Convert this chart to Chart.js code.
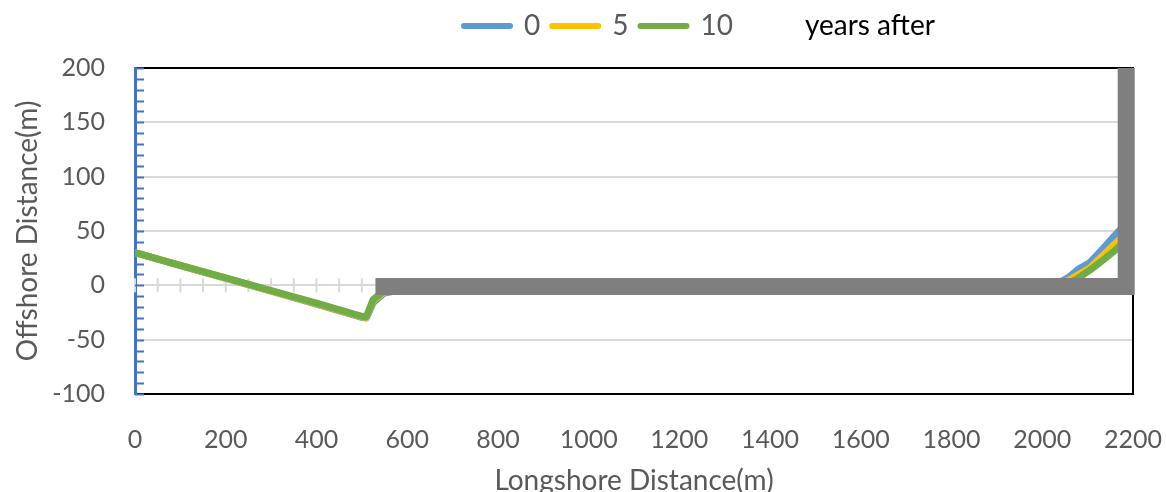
<!DOCTYPE html>
<html>
<head>
<meta charset="utf-8">
<script src="https://cdn.jsdelivr.net/npm/chart.js@4"></script>
<style>
  html, body { margin: 0; padding: 0; background: #fff; }
  #wrap { width: 1166px; height: 492px; }
</style>
</head>
<body>
<div id="wrap"><canvas id="myChart" width="1166" height="492"></canvas></div>
<script>
const longshore = [0, 100, 200, 300, 400, 500, 510, 525, 550, 600, 700, 800, 1000, 1200, 1400, 1600, 1800, 2000, 2040, 2060, 2080, 2105, 2130, 2160, 2180];
const year0  = [30, 18.2, 6.4, -5.4, -17.2, -29.5, -30, -16, -7, -3, -2, -1, -1, -1, -1, -1, -0.5, 0, 3, 8, 15, 21, 32, 46, 55];
const year5  = [30, 18.3, 6.6, -5.1, -16.8, -29, -29.5, -14, -6, -3, -2, -1, -1, -1, -1, -1, -0.5, 0, 1, 5, 10, 16, 26, 38, 46];
const year10 = [30, 18.4, 6.8, -4.8, -16.4, -28.5, -29, -13, -5, -2.5, -1.5, -1, -1, -1, -1, -1, -0.5, 0, 0, 2, 7, 14, 22, 32, 40];
const breakwaterX = [530, 2185, 2185];
const breakwaterY = [-1, -1, 200];
const seriesLabels = ['0', '5', '10', 'years after'];
const xTicks = [0, 200, 400, 600, 800, 1000, 1200, 1400, 1600, 1800, 2000, 2200];
const yTicks = [-100, -50, 0, 50, 100, 150, 200];

const FONT = 'Lato, "DejaVu Sans", sans-serif';
const GREY_TEXT = '#595959';

function pts(xs, ys) {
  return xs.map((x, i) => ({ x: x, y: ys[i] }));
}

function lineSet(label, ys, color, order) {
  return {
    label: label,
    data: pts(longshore, ys),
    borderColor: color,
    backgroundColor: color,
    borderWidth: 7,
    borderJoinStyle: 'round',
    borderCapStyle: 'round',
    pointRadius: 0,
    fill: false,
    order: order
  };
}

const data = {
  datasets: [
    lineSet(seriesLabels[0], year0, '#5B9BD5', 3),
    lineSet(seriesLabels[1], year5, '#FFC000', 2),
    lineSet(seriesLabels[2], year10, '#70AD47', 1),
    {
      label: seriesLabels[3],
      data: pts(breakwaterX, breakwaterY),
      borderColor: '#7F7F7F',
      backgroundColor: '#7F7F7F',
      borderWidth: 17,
      borderCapStyle: 'butt',
      borderJoinStyle: 'miter',
      pointRadius: 0,
      fill: false,
      clip: false,
      order: 0
    }
  ]
};

// minor tick marks: crossing ticks on the zero line, inward ticks on the left axis
const axisTicks = {
  id: 'axisTicks',
  beforeDatasetsDraw(chart) {
    const { ctx, scales: { x, y } } = chart;
    ctx.save();
    const y0 = y.getPixelForValue(0);
    ctx.strokeStyle = '#d9d9d9';
    ctx.lineWidth = 2;
    for (let v = x.min; v <= x.max; v += 50) {
      const px = x.getPixelForValue(v);
      ctx.beginPath();
      ctx.moveTo(px, y0 - 7);
      ctx.lineTo(px, y0 + 7);
      ctx.stroke();
    }
    ctx.strokeStyle = '#4472C4';
    for (let v = y.min; v <= y.max; v += 10) {
      const py = Math.round(y.getPixelForValue(v)) + 0.5;
      ctx.beginPath();
      ctx.moveTo(x.left, py);
      ctx.lineTo(x.left + 9, py);
      ctx.stroke();
    }
    ctx.restore();
  }
};

// move the legend so it sits right of centre like the original
const legendShift = {
  id: 'legendShift',
  afterLayout(chart) {
    const lg = chart.legend;
    if (!lg) return;
    lg.left = 452;
    lg.right = 1166;
    lg.width = lg.right - lg.left;
  }
};

const config = {
  type: 'line',
  data,
  plugins: [axisTicks, legendShift],
  options: {
    responsive: false,
    animation: false,
    layout: { padding: { left: 0, right: 5, top: 0, bottom: 0 } },
    plugins: {
      tooltip: { enabled: false },
      legend: {
        position: 'top',
        align: 'start',
        labels: {
          usePointStyle: true,
          pointStyleWidth: 46,
          padding: 12,
          font: { family: FONT, size: 28 },
          generateLabels(chart) {
            return chart.data.datasets.map((ds, i) => ({
              text: ds.label,
              datasetIndex: i,
              hidden: false,
              pointStyle: 'line',
              lineWidth: 6,
              lineCap: 'round',
              strokeStyle: i === 3 ? 'rgba(0,0,0,0)' : ds.borderColor,
              fillStyle: i === 3 ? 'rgba(0,0,0,0)' : ds.borderColor,
              fontColor: i === 3 ? '#000000' : GREY_TEXT,
              rotation: 0
            }));
          }
        }
      }
    },
    scales: {
      x: {
        type: 'linear',
        position: 'bottom',
        min: 0,
        max: 2200,
        afterBuildTicks(scale) { scale.ticks = xTicks.map(v => ({ value: v })); },
        afterFit(scale) { scale.height = 98; },
        ticks: {
          color: GREY_TEXT, padding: 4, maxRotation: 0,
          font: { family: FONT, size: 25 },
          callback: v => String(v)
        },
        grid: {
          display: true,
          drawOnChartArea: false,
          drawTicks: true,
          tickLength: 27,
          tickColor: 'rgba(0,0,0,0)'
        },
        border: { display: true, color: '#000000', width: 2 },
        title: {
          display: true,
          text: 'Longshore Distance(m)',
          color: GREY_TEXT,
          padding: { top: -6, bottom: -6 },
          font: { family: FONT, size: 28 }
        }
      },
      x2: {
        type: 'linear',
        position: 'top',
        min: 0,
        max: 2200,
        afterFit(scale) { scale.height = 18; },
        ticks: { display: false },
        grid: { display: false },
        border: { display: true, color: '#000000', width: 2 }
      },
      y: {
        type: 'linear',
        position: 'left',
        min: -100,
        max: 200,
        afterBuildTicks(scale) { scale.ticks = yTicks.map(v => ({ value: v })); },
        afterFit(scale) { scale.width = 135; },
        ticks: { color: GREY_TEXT, padding: 30, font: { family: FONT, size: 25 }, callback: v => String(v) },
        grid: {
          drawTicks: false,
          lineWidth: 2,
          color: ctx => (ctx.tick && (ctx.tick.value === 200 || ctx.tick.value === -100)) ? 'rgba(0,0,0,0)' : '#d9d9d9'
        },
        border: { display: true, color: '#4472C4', width: 3 },
        title: {
          display: true,
          text: 'Offshore Distance(m)',
          color: GREY_TEXT,
          padding: { top: 11, bottom: 0 },
          font: { family: FONT, size: 28 }
        }
      },
      y2: {
        type: 'linear',
        position: 'right',
        min: -100,
        max: 200,
        afterFit(scale) { scale.width = 0; },
        ticks: { display: false },
        grid: { display: false },
        border: { display: true, color: '#000000', width: 2 }
      }
    }
  }
};

const myChart = new Chart(
  document.getElementById('myChart'),
  config
);
</script>
</body>
</html>
